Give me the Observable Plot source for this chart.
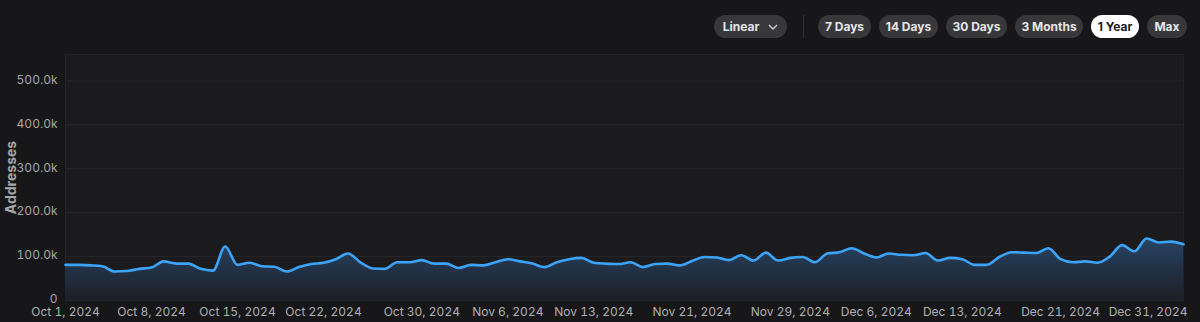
<!DOCTYPE html>
<html><head><meta charset="utf-8">
<script src="https://cdn.jsdelivr.net/npm/d3@7"></script>
<script src="https://cdn.jsdelivr.net/npm/@observablehq/plot@0.6"></script>
<style>
body{margin:0;background:#171719;width:1200px;height:322px;overflow:hidden;font-family:Inter,sans-serif;position:relative}
.btn{position:absolute;top:15px;height:23px;border-radius:12px;background:#38383b;color:#e6e6e6;font-size:12px;font-weight:700;display:flex;align-items:center;justify-content:center;box-sizing:border-box}
.btn.on{background:#ffffff;color:#1a1a1a}
.sep{position:absolute;left:803px;top:15px;width:1px;height:23px;background:#333336}
#chart{position:absolute;left:0;top:0}
</style>
</head><body>
<div id="chart"></div>
<script>
// ---- data ----
const startDate = "2024-10-01";
const addresses = [
  81000, 81000, 80000, 78000, 66000, 67000, 72000, 75000, 89000, 84000,
  84000, 72000, 68000, 123000, 81000, 86000, 78000, 77000, 66000, 76000,
  83000, 86000, 94000, 107000, 87000, 73000, 72000, 87000, 87000, 92000,
  84000, 84000, 74000, 81000, 80000, 87000, 94000, 89000, 84000, 76000,
  87000, 94000, 97000, 86000, 84000, 83000, 87000, 76000, 83000, 84000,
  80000, 90000, 99000, 98000, 92000, 103000, 91000, 109000, 91000, 97000,
  99000, 87000, 107000, 110000, 119000, 107000, 98000, 107000, 104000, 103000,
  108000, 91000, 97000, 94000, 81000, 81000, 99000, 110000, 109000, 108000,
  119000, 94000, 87000, 89000, 86000, 100000, 126000, 112000, 141000, 132000,
  134000, 128000
];
const xTickDates = ["2024-10-01","2024-10-08","2024-10-15","2024-10-22","2024-10-30","2024-11-06","2024-11-13","2024-11-21","2024-11-29","2024-12-06","2024-12-13","2024-12-21","2024-12-31"];
const yTicks = [0, 100000, 200000, 300000, 400000, 500000];
const yLabel = "Addresses";
const scaleButtons = ["Linear"];
const rangeButtons = ["7 Days", "14 Days", "30 Days", "3 Months", "1 Year", "Max"];
const activeRange = "1 Year";

// ---- buttons ----
const btnLayout = [[818,53],[879,59],[946,61],[1015,68],[1091,48],[1147,40]];
const lin = document.createElement("div");
lin.className = "btn"; lin.style.left = "714px"; lin.style.width = "73px";
lin.innerHTML = scaleButtons[0] + ' <svg width="10" height="6" style="margin-left:9px" viewBox="0 0 10 6"><path d="M1 1 L5 5 L9 1" fill="none" stroke="#cfcfcf" stroke-width="1.4"/></svg>';
document.body.appendChild(lin);
const sep = document.createElement("div"); sep.className = "sep"; document.body.appendChild(sep);
rangeButtons.forEach((t, i) => {
  const b = document.createElement("div");
  b.className = "btn" + (t === activeRange ? " on" : "");
  b.style.left = btnLayout[i][0] + "px"; b.style.width = btnLayout[i][1] + "px";
  b.textContent = t;
  document.body.appendChild(b);
});

// ---- chart ----
const start = new Date(startDate + "T00:00:00Z");
const data = addresses.map((v, i) => ({date: d3.utcDay.offset(start, i), value: v}));
const xTicks = xTickDates.map(s => new Date(s + "T00:00:00Z"));
const fmtX = d3.utcFormat("%b %-d, %Y");
const fmtY = v => v === 0 ? "0" : (v / 1000).toFixed(1) + "k";

function gradientDefs() {
  const d = document.createElementNS("http://www.w3.org/2000/svg", "defs");
  d.innerHTML = '<linearGradient id="areaGrad" x1="0" y1="0" x2="0" y2="1">' +
    '<stop offset="0" stop-color="#284466"/><stop offset="1" stop-color="#1c1f26"/></linearGradient>';
  return d;
}

const chart = Plot.plot({
  width: 1200, height: 322,
  marginTop: 54, marginBottom: 22, marginLeft: 65, marginRight: 17,
  style: {background: "transparent", color: "#a6a6a6", fontFamily: "Inter, sans-serif", fontSize: "12px"},
  x: {type: "utc", domain: [data[0].date, data[data.length - 1].date]},
  y: {domain: [0, 560000]},
  marks: [
    Plot.frame({fill: "#1b1b1e", stroke: "#232326"}),
    Plot.gridY(yTicks, {stroke: "#27272a", strokeOpacity: 1}),
    gradientDefs,
    Plot.areaY(data, {x: "date", y: "value", fill: "url(#areaGrad)", curve: "monotone-x"}),
    Plot.lineY(data, {x: "date", y: "value", stroke: "#3ca4f8", strokeWidth: 2.6, curve: "monotone-x"}),
    Plot.axisY(yTicks, {tickSize: 0, tickPadding: 8, tickFormat: fmtY, label: null, fill: "#a6a6a6", dy: -1}),
    Plot.text([yLabel], {frameAnchor: "left", textAnchor: "middle", dx: -54, rotate: -90, fontSize: 14, fontWeight: 700, fill: "#a8a8a8"}),
    Plot.axisX(xTicks.slice(0, -1), {tickSize: 0, tickPadding: 7, tickFormat: fmtX, label: null, fill: "#b0b0b0"}),
    Plot.axisX(xTicks.slice(-1), {tickSize: 0, tickPadding: 7, tickFormat: fmtX, label: null, fill: "#b0b0b0", textAnchor: "end", dx: 4})
  ]
});
document.getElementById("chart").appendChild(chart);
</script>
</body></html>
